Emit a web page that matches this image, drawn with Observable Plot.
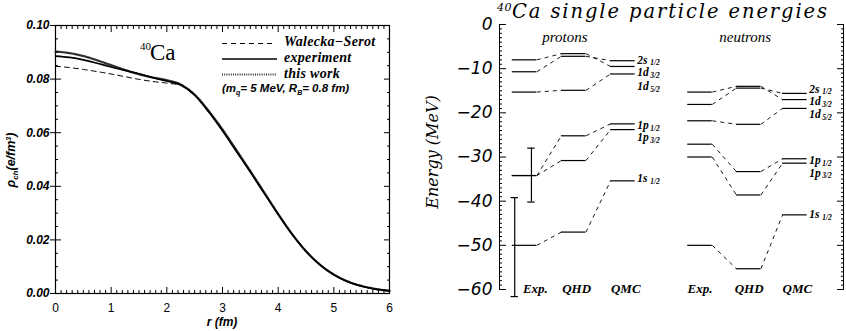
<!DOCTYPE html>
<html><head><meta charset="utf-8">
<script src="https://cdn.jsdelivr.net/npm/d3@7"></script>
<script src="https://cdn.jsdelivr.net/npm/@observablehq/plot@0.6"></script>
<style>
body{margin:0;background:#fff;}
#wrap{position:relative;width:846px;height:331px;overflow:hidden;background:#fff;}
#left{position:absolute;left:0;top:0;width:420px;height:331px;}
#right{position:absolute;left:420px;top:0;width:426px;height:331px;}
</style></head><body>
<div id="wrap"><div id="left"></div><div id="right"></div></div>
<script>
// ---------------- Left panel data: 40Ca charge density ----------------
const rValues        = [0, 0.25, 0.5, 0.75, 1, 1.25, 1.5, 1.75, 2, 2.25, 2.5, 2.75, 3, 3.25, 3.5, 3.75, 4, 4.25, 4.5, 4.75, 5, 5.25, 5.5, 5.75, 6];
const rhoExperiment  = [0.0886, 0.0881, 0.0872, 0.0859, 0.0845, 0.0832, 0.0820, 0.0805, 0.0793, 0.0778, 0.0740, 0.0678, 0.0607, 0.0530, 0.0453, 0.0374, 0.0295, 0.0221, 0.0157, 0.0107, 0.0070, 0.0044, 0.0027, 0.0016, 0.0010];
const rhoWaleckaSerot= [0.0848, 0.0843, 0.0836, 0.0828, 0.0819, 0.0809, 0.0799, 0.0791, 0.0785, 0.0777, 0.0742, 0.0680, 0.0608, 0.0532, 0.0455, 0.0376, 0.0296, 0.0221, 0.0157, 0.0107, 0.0070, 0.0044, 0.0027, 0.0016, 0.0010];
const rhoThisWork    = [0.0903, 0.0897, 0.0886, 0.0870, 0.0852, 0.0834, 0.0818, 0.0806, 0.0796, 0.0780, 0.0742, 0.0682, 0.0612, 0.0535, 0.0457, 0.0377, 0.0297, 0.0222, 0.0158, 0.0108, 0.0071, 0.0045, 0.0028, 0.0017, 0.0010];
const rhoMajorTicks  = [0, 0.02, 0.04, 0.06, 0.08, 0.10];
const rMajorTicks    = [0, 1, 2, 3, 4, 5, 6];
const legendNames    = ["Walecka\u2212Serot", "experiment", "this work"];

// ---------------- Right panel data: single particle energies (MeV) ----------------
const models        = ["Exp.", "QHD", "QMC"];
const nucleons      = ["protons", "neutrons"];
const states        = ["1s", "1p", "1p", "1d", "2s", "1d"];
const stateSubs     = ["1/2", "3/2", "1/2", "5/2", "1/2", "3/2"];
const protonExp     = [-50.0, -34.2, -34.2, -15.3, -10.7, -8.0];
const protonQHD     = [-47.0, -30.8, -25.2, -14.9, -7.2, -6.6];
const protonQMC     = [-35.4, -23.8, -22.5, -11.2, -8.2, -9.5];
const neutronExp    = [-50.0, -30.0, -27.1, -21.8, -18.1, -15.3];
const neutronQHD    = [-55.3, -38.6, -33.3, -22.6, -14.4, -14.0];
const neutronQMC    = [-43.1, -31.4, -30.4, -19.0, -15.6, -17.0];
const protonLabelE  = [-34.9, -25.6, -22.8, -14.0, -8.0, -10.8];
const neutronLabelE = [-43.0, -33.6, -30.8, -20.4, -14.6, -17.4];
const protonErrLow  = [-61.6, -40.2];
const protonErrHigh = [-39.2, -28.0];
const energyMajorTicks = [-60, -50, -40, -30, -20, -10, 0];

// ---------------- layout (not data) ----------------
const xDomain = [0, 7];
const colStart = [[0.26, 1.26, 2.26], [3.83, 4.82, 5.76]];
const colWidth = 0.5;
const modelLabelX = [[0.73, 1.57, 2.57], [4.08, 5.08, 6.06]];
const nucleonLabelX = [1.33, 5.0];
const errX = [0.31, 0.65];
const capHalf = 0.075;

// ---------------- LEFT PLOT ----------------
const curveRows = rValues.map((r, i) => ({r, exp: rhoExperiment[i], ws: rhoWaleckaSerot[i], tw: rhoThisWork[i]}));
const rhoMinorTicks = d3.range(0, 0.1001, 0.005).filter(v => Math.abs(v / 0.02 - Math.round(v / 0.02)) > 1e-6);
const rMinorTicks = d3.range(0, 6.001, 0.1).filter(v => Math.abs(v - Math.round(v)) > 1e-6);

const boldIt = {fontStyle: "italic", fontWeight: "bold"};
const left = Plot.plot({
  width: 420, height: 331,
  marginLeft: 55, marginRight: 31, marginTop: 25, marginBottom: 38,
  x: {domain: [0, 6]},
  y: {domain: [0, 0.1]},
  style: {background: "white", color: "black", fontFamily: "Liberation Sans", overflow: "visible"},
  marks: [
    Plot.frame({stroke: "black", strokeWidth: 1.2}),
    Plot.line(curveRows, {x: "r", y: "tw", stroke: "#333", strokeWidth: 2.2, strokeDasharray: "1,1.2", curve: "monotone-x"}),
    Plot.line(curveRows, {x: "r", y: "ws", stroke: "black", strokeWidth: 1, strokeDasharray: "5,4", curve: "monotone-x"}),
    Plot.line(curveRows, {x: "r", y: "exp", stroke: "black", strokeWidth: 1.7, curve: "monotone-x"}),
    Plot.axisY(rhoMajorTicks, {anchor: "left", tickSize: 5, tickPadding: 1, tickFormat: d => d.toFixed(2), fontSize: 12, ...boldIt, label: null}),
    Plot.axisY(rhoMajorTicks, {anchor: "left", tickSize: 6, dx: 6, fill: "none", label: null}),
    Plot.axisY(rhoMinorTicks, {anchor: "left", tickSize: 3, dx: 3, fill: "none", label: null}),
    Plot.axisY(rhoMajorTicks, {anchor: "right", tickSize: 6, dx: -6, fill: "none", label: null}),
    Plot.axisY(rhoMinorTicks, {anchor: "right", tickSize: 3, dx: -3, fill: "none", label: null}),
    Plot.axisX(rMajorTicks, {anchor: "bottom", tickSize: 0, tickPadding: 10, fontSize: 12, label: null}),
    Plot.axisX(rMajorTicks, {anchor: "bottom", tickSize: 6, dy: -6, fill: "none", label: null}),
    Plot.axisX(rMinorTicks, {anchor: "bottom", tickSize: 3, dy: -3, fill: "none", label: null}),
    Plot.axisX(rMajorTicks, {anchor: "top", tickSize: 6, dy: 6, fill: "none", label: null}),
    Plot.axisX(rMinorTicks, {anchor: "top", tickSize: 3, dy: 3, fill: "none", label: null})
  ]
});
document.getElementById("left").appendChild(left);

// ---------------- RIGHT PLOT ----------------
const panels = [
  {cols: [protonExp, protonQHD, protonQMC], labelE: protonLabelE, start: colStart[0]},
  {cols: [neutronExp, neutronQHD, neutronQMC], labelE: neutronLabelE, start: colStart[1]}
];
const levelRows = [], linkRows = [], labelRows = [], modelRows = [];
panels.forEach((p, pi) => {
  p.cols.forEach((vals, c) => {
    vals.forEach(E => levelRows.push({x1: p.start[c], x2: p.start[c] + colWidth, E}));
    modelRows.push({x: modelLabelX[pi][c], model: models[c]});
    if (c < 2) vals.forEach((E, i) => linkRows.push({x1: p.start[c] + colWidth, y1: E, x2: p.start[c + 1], y2: p.cols[c + 1][i]}));
  });
  states.forEach((s, i) => labelRows.push({x: p.start[2] + colWidth, E: p.labelE[i], main: s, sub: stateSubs[i]}));
});
const errRows = protonErrLow.map((lo, i) => ({x: errX[i], lo, hi: protonErrHigh[i]}));
const capRows = errRows.flatMap(d => [d.lo, d.hi].map(E => ({x1: d.x - capHalf, x2: d.x + capHalf, E})));
const nucleonRows = nucleons.map((n, i) => ({x: nucleonLabelX[i], name: n}));
const eMinorTicks = d3.range(-60, 0.5, 1).filter(v => v % 10 !== 0);

const serif = "Liberation Serif";
const right = Plot.plot({
  width: 426, height: 331,
  marginLeft: 79, marginRight: 3, marginTop: 24, marginBottom: 42,
  x: {domain: xDomain, axis: null},
  y: {domain: [-60, 0]},
  style: {background: "white", color: "black", fontFamily: "DejaVu Sans", overflow: "visible"},
  marks: [
    Plot.ruleX(xDomain, {stroke: "black", strokeWidth: 1}),
    Plot.link(linkRows, {x1: "x1", y1: "y1", x2: "x2", y2: "y2", stroke: "black", strokeWidth: 0.9, strokeDasharray: "4,4"}),
    Plot.ruleY(levelRows, {x1: "x1", x2: "x2", y: "E", stroke: "black", strokeWidth: 1.2}),
    Plot.ruleX(errRows, {x: "x", y1: "lo", y2: "hi", stroke: "black", strokeWidth: 1.2}),
    Plot.ruleY(capRows, {x1: "x1", x2: "x2", y: "E", stroke: "black", strokeWidth: 1.2}),
    Plot.text(labelRows, {x: "x", y: "E", text: "main", dx: 2, textAnchor: "start", lineAnchor: "middle", fontFamily: serif, fontSize: 11.5, ...boldIt}),
    Plot.text(labelRows, {x: "x", y: "E", text: "sub", dx: 15, dy: 3, textAnchor: "start", lineAnchor: "middle", fontFamily: serif, fontSize: 7.5, ...boldIt}),
    Plot.text(modelRows, {x: "x", y: -60, text: "model", lineAnchor: "middle", dy: -1, fontFamily: serif, fontSize: 13, ...boldIt}),
    Plot.text(nucleonRows, {x: "x", y: 0, text: "name", lineAnchor: "middle", dy: 13, fontFamily: serif, fontSize: 15, fontStyle: "italic"}),
    Plot.axisY(energyMajorTicks, {anchor: "left", tickSize: 0, tickPadding: 7, tickFormat: d => d === 0 ? "0" : "\u2212" + Math.abs(d), fontSize: 17, fontStyle: "italic", label: null}),
    Plot.axisY(energyMajorTicks, {anchor: "left", tickSize: 7, dx: 7, fill: "none", label: null}),
    Plot.axisY(eMinorTicks, {anchor: "left", tickSize: 3, dx: 3, fill: "none", label: null}),
    Plot.axisY(energyMajorTicks, {anchor: "right", tickSize: 7, dx: -7, fill: "none", label: null}),
    Plot.axisY(eMinorTicks, {anchor: "right", tickSize: 3, dx: -3, fill: "none", label: null})
  ]
});
document.getElementById("right").appendChild(right);

// ---------------- rich text annotations ----------------
function rich(svg, x, y, parts, o = {}) {
  const t = d3.select(svg).append("text")
    .attr("x", x).attr("y", y)
    .attr("font-family", o.family || "Liberation Sans")
    .attr("font-size", o.size || 12)
    .attr("font-style", o.style || "normal")
    .attr("font-weight", o.weight || "normal")
    .attr("text-anchor", o.anchor || "start")
    .attr("fill", "black");
  if (o.rotate) t.attr("transform", `rotate(${o.rotate},${x},${y})`);
  let shift = 0;
  for (const p of parts) {
    const q = typeof p === "string" ? {t: p} : p;
    const s = t.append("tspan").text(q.t);
    const want = q.shift || 0;
    if (want !== shift) { s.attr("dy", want - shift); shift = want; }
    if (q.size) s.attr("font-size", q.size);
    const sp = q.spacing != null ? q.spacing : o.spacing;
    if (sp) s.attr("letter-spacing", sp);
  }
  return t;
}
function line(svg, x1, x2, y, dash, w, col) {
  const l = d3.select(svg).append("line").attr("x1", x1).attr("x2", x2).attr("y1", y).attr("y2", y)
    .attr("stroke", col || "black").attr("stroke-width", w || 1);
  if (dash) l.attr("stroke-dasharray", dash);
}

// left panel annotations
rich(left, 140, 50, ["40"], {family: serif, size: 11});
rich(left, 150, 60, ["Ca"], {family: serif, size: 23});
line(left, 222, 275, 43.5, "5,4", 1);
line(left, 222, 277, 59, null, 1.5);
line(left, 222, 277, 74.5, "1,1.2", 2.2, "#333");
rich(left, 284, 46, [legendNames[0]], {family: serif, size: 14, style: "italic", weight: "bold", spacing: 0.3});
rich(left, 284, 62, [legendNames[1]], {family: serif, size: 14, style: "italic", weight: "bold", spacing: 0.3});
rich(left, 284, 78, [legendNames[2]], {family: serif, size: 14, style: "italic", weight: "bold", spacing: 0.3});
rich(left, 222, 92, ["(m", {t: "q", size: 7, shift: 3}, {t: "= 5 MeV, R", shift: 0}, {t: "B", size: 7, shift: 3}, {t: "= 0.8 fm)", shift: 0}], {size: 11.5, style: "italic", weight: "bold"});
rich(left, 15, 160, ["\u03c1", {t: "ch", size: 8, shift: 3}, {t: "(e/fm", shift: 0}, {t: "3", size: 7, shift: -4}, {t: ")", shift: 0}], {size: 12.5, style: "italic", weight: "bold", anchor: "middle", rotate: -90});
rich(left, 222, 326, ["r (fm)"], {size: 12, style: "italic", weight: "bold", anchor: "middle"});

// right panel annotations
rich(right, 77, 18, [{t: "40", size: 11, shift: -7, spacing: 0.5}, {t: "Ca single particle energies", shift: 0}], {family: "DejaVu Serif", size: 19.5, style: "italic", spacing: 1.9});
rich(right, 18, 152, ["Energy (MeV)"], {family: "DejaVu Serif", size: 16, style: "italic", anchor: "middle", rotate: -90});
</script>
</body></html>
